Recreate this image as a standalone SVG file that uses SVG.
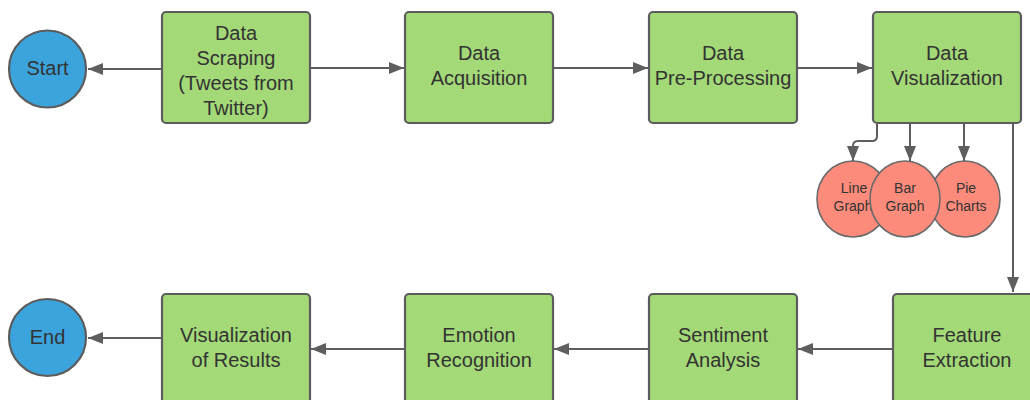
<svg xmlns="http://www.w3.org/2000/svg" width="1030" height="400" viewBox="0 0 1030 400">
  <style>
    .box { fill: #a3d977; stroke: #5c5c5c; stroke-width: 2.2; }
    .term { fill: #3ba4dc; stroke: #5c5c5c; stroke-width: 2.2; }
    .chart { fill: #fc8b7b; stroke: #6a6a6a; stroke-width: 1.6; }
    .lbl { font-family: "Liberation Sans", Arial, sans-serif; font-size: 20px; fill: #333333; text-anchor: middle; }
    .small { font-family: "Liberation Sans", Arial, sans-serif; font-size: 14px; fill: #333333; text-anchor: middle; }
    .conn { fill: none; stroke: #5e5e5e; stroke-width: 2; marker-end: url(#arrow); }
  </style>
  <defs>
    <marker id="arrow" markerUnits="userSpaceOnUse" markerWidth="15" markerHeight="12" refX="15" refY="6" orient="auto">
      <path d="M0,0 L15,6 L0,12 z" fill="#5e5e5e"/>
    </marker>
  </defs>
  <rect width="1030" height="400" fill="#ffffff"/>

  <!-- terminals -->
  <g id="start">
    <circle class="term" cx="47.5" cy="69" r="38.5"/>
    <text class="lbl" x="47.5" y="75">Start</text>
  </g>
  <g id="end">
    <circle class="term" cx="47.5" cy="337.5" r="38.5"/>
    <text class="lbl" x="47.5" y="344">End</text>
  </g>

  <!-- top row -->
  <g id="data-scraping">
    <rect class="box" x="162" y="12" width="148" height="111" rx="4"/>
    <text class="lbl" x="236" y="40">Data</text>
    <text class="lbl" x="236" y="65">Scraping</text>
    <text class="lbl" x="236" y="90">(Tweets from</text>
    <text class="lbl" x="236" y="115">Twitter)</text>
  </g>
  <g id="data-acquisition">
    <rect class="box" x="405" y="12" width="148" height="111" rx="4"/>
    <text class="lbl" x="479" y="60">Data</text>
    <text class="lbl" x="479" y="85">Acquisition</text>
  </g>
  <g id="data-preprocessing">
    <rect class="box" x="649" y="12" width="148" height="111" rx="4"/>
    <text class="lbl" x="723" y="60">Data</text>
    <text class="lbl" x="723" y="85">Pre-Processing</text>
  </g>
  <g id="data-visualization">
    <rect class="box" x="873" y="12" width="148" height="111" rx="4"/>
    <text class="lbl" x="947" y="60">Data</text>
    <text class="lbl" x="947" y="85">Visualization</text>
  </g>

  <!-- chart types -->
  <g id="line-graph">
    <ellipse class="chart" cx="853" cy="199" rx="36" ry="38"/>
    <text class="small" x="854" y="193">Line</text>
    <text class="small" x="853" y="211">Graph</text>
  </g>
  <g id="pie-charts">
    <ellipse class="chart" cx="965" cy="199" rx="35" ry="38"/>
    <text class="small" x="966" y="193">Pie</text>
    <text class="small" x="966" y="211">Charts</text>
  </g>
  <g id="bar-graph">
    <ellipse class="chart" cx="905" cy="199" rx="35" ry="38"/>
    <text class="small" x="905" y="193">Bar</text>
    <text class="small" x="905" y="211">Graph</text>
  </g>

  <!-- bottom row -->
  <g id="feature-extraction">
    <rect class="box" x="893" y="294" width="148" height="111" rx="4"/>
    <text class="lbl" x="967" y="342">Feature</text>
    <text class="lbl" x="967" y="367">Extraction</text>
  </g>
  <g id="sentiment-analysis">
    <rect class="box" x="649" y="294" width="148" height="111" rx="4"/>
    <text class="lbl" x="723" y="342">Sentiment</text>
    <text class="lbl" x="723" y="367">Analysis</text>
  </g>
  <g id="emotion-recognition">
    <rect class="box" x="405" y="294" width="148" height="111" rx="4"/>
    <text class="lbl" x="479" y="342">Emotion</text>
    <text class="lbl" x="479" y="367">Recognition</text>
  </g>
  <g id="visualization-of-results">
    <rect class="box" x="162" y="294" width="148" height="111" rx="4"/>
    <text class="lbl" x="236" y="342">Visualization</text>
    <text class="lbl" x="236" y="367">of Results</text>
  </g>

  <!-- connectors -->
  <g id="connectors">
    <path class="conn" d="M161,69 H88"/>
    <path class="conn" d="M311,68 H404"/>
    <path class="conn" d="M554,68 H648"/>
    <path class="conn" d="M798,68 H872"/>
    <path class="conn" d="M877,124 V136 Q877,141 872,141 H858 Q853,141 853,146 V161"/>
    <path class="conn" d="M910,124 V161"/>
    <path class="conn" d="M964,124 V161"/>
    <path class="conn" d="M1013,124 V292"/>
    <path class="conn" d="M892,349 H798"/>
    <path class="conn" d="M648,349 H554"/>
    <path class="conn" d="M404,349 H311"/>
    <path class="conn" d="M161,338 H88"/>
  </g>
</svg>
